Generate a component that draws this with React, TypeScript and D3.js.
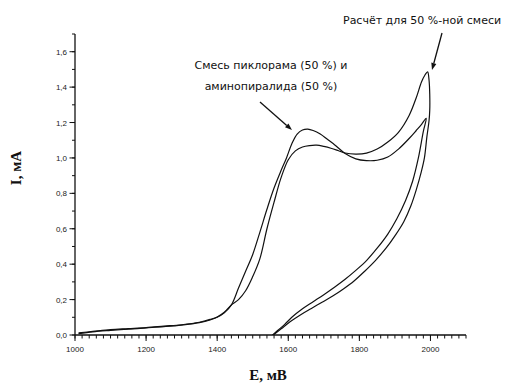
import React from "react";
import * as d3 from "d3";

// Measured mixture (picloram 50% + aminopyralid 50%) – forward scan
const mixFwdE = [1010, 1050, 1100, 1150, 1200, 1250, 1300, 1350, 1380, 1400, 1420, 1440, 1460, 1480, 1500, 1520, 1540, 1560, 1580, 1595, 1610, 1625, 1640, 1655, 1670, 1690, 1710, 1730, 1760, 1790, 1820, 1850, 1880, 1910, 1940, 1960, 1975, 1988];
const mixFwdI = [0.008, 0.018, 0.026, 0.033, 0.04, 0.047, 0.056, 0.07, 0.085, 0.1, 0.125, 0.17, 0.265, 0.36, 0.455, 0.58, 0.71, 0.83, 0.93, 1.0, 1.08, 1.135, 1.158, 1.163, 1.155, 1.135, 1.105, 1.075, 1.025, 0.995, 0.985, 0.987, 1.005, 1.05, 1.11, 1.155, 1.19, 1.224];
// Measured mixture – reverse scan
const mixRevE = [1980, 1966, 1950, 1930, 1905, 1880, 1850, 1820, 1790, 1760, 1730, 1700, 1670, 1640, 1610, 1590, 1570, 1556, 1545];
const mixRevI = [1.15, 1.0, 0.87, 0.76, 0.655, 0.57, 0.49, 0.42, 0.365, 0.315, 0.27, 0.228, 0.188, 0.148, 0.1, 0.06, 0.025, 0.0, -0.02];

// Calculated for 50% mixture – forward scan
const calcFwdE = [1010, 1050, 1100, 1150, 1200, 1250, 1300, 1350, 1380, 1400, 1420, 1440, 1460, 1480, 1500, 1520, 1540, 1560, 1580, 1600, 1620, 1640, 1660, 1680, 1700, 1720, 1740, 1760, 1790, 1820, 1850, 1880, 1910, 1940, 1960, 1975, 1985, 1992];
const calcFwdI = [0.012, 0.02, 0.03, 0.036, 0.042, 0.05, 0.058, 0.072, 0.088, 0.102, 0.128, 0.17, 0.2, 0.25, 0.33, 0.43, 0.6, 0.75, 0.89, 0.99, 1.04, 1.062, 1.07, 1.072, 1.065, 1.055, 1.042, 1.028, 1.022, 1.027, 1.05, 1.09, 1.145, 1.24, 1.34, 1.43, 1.47, 1.486];
// Calculated – reverse scan
const calcRevE = [1996, 1998, 1998, 1996, 1990, 1983, 1974, 1960, 1945, 1925, 1900, 1875, 1845, 1815, 1785, 1755, 1725, 1695, 1665, 1635, 1605, 1580, 1558, 1545];
const calcRevI = [1.44, 1.36, 1.27, 1.21, 1.12, 1.0, 0.92, 0.82, 0.73, 0.64, 0.56, 0.49, 0.42, 0.36, 0.305, 0.26, 0.22, 0.185, 0.15, 0.115, 0.075, 0.035, 0.0, -0.02];

const xTickValues = [1000, 1200, 1400, 1600, 1800, 2000];
const yTickValues = [0, 0.2, 0.4, 0.6, 0.8, 1.0, 1.2, 1.4, 1.6];

const xLabel = "E, мВ";
const yLabel = "I, мА";
const calcNote = "Расчёт для 50 %-ной смеси";
const mixNote1 = "Смесь пиклорама (50 %) и";
const mixNote2 = "аминопиралида (50 %)";

const W = 507;
const H = 383;

export default function App() {
  const x = d3.scaleLinear().domain([1000, 2100]).range([75, 466]);
  const y = d3.scaleLinear().domain([0, 1.7]).range([335, 34]);

  const line = d3
    .line<[number, number]>()
    .x((d) => x(d[0]))
    .y((d) => y(d[1]))
    .curve(d3.curveCatmullRom.alpha(0.5));

  const mixPts: [number, number][] = [
    ...mixFwdE.map((e, i) => [e, mixFwdI[i]] as [number, number]),
    ...mixRevE.map((e, i) => [e, mixRevI[i]] as [number, number]),
  ];
  const calcPts: [number, number][] = [
    ...calcFwdE.map((e, i) => [e, calcFwdI[i]] as [number, number]),
    ...calcRevE.map((e, i) => [e, calcRevI[i]] as [number, number]),
  ];

  const xMinor = d3.range(1000, 2100.1, 20);
  const yMinor = d3.range(0, 1.701, 0.1);
  const x0 = x(1000);
  const y0 = y(0);

  const fmtY = (v: number) => v.toFixed(1).replace(".", ",");

  const arrow = (x1: number, y1: number, x2: number, y2: number, key: string) => {
    const ang = Math.atan2(y2 - y1, x2 - x1);
    const len = 7;
    const w = 2.6;
    const bx = x2 - len * Math.cos(ang);
    const by = y2 - len * Math.sin(ang);
    const px = -Math.sin(ang) * w;
    const py = Math.cos(ang) * w;
    return (
      <g key={key}>
        <line x1={x1} y1={y1} x2={bx} y2={by} stroke="#111" strokeWidth={1.3} />
        <path d={`M${x2},${y2}L${bx + px},${by + py}L${bx - px},${by - py}Z`} fill="#111" />
      </g>
    );
  };

  return (
    <div style={{ position: "fixed", left: 0, top: 0, width: W, height: H, background: "#fff" }}>
      <svg width={W} height={H} style={{ display: "block" }}>
        <defs>
          <clipPath id="plot">
            <rect x={x0} y={20} width={x(2100) - x0} height={y0 - 20} />
          </clipPath>
        </defs>
        <rect width={W} height={H} fill="#fff" />
        <g clipPath="url(#plot)" fill="none" stroke="#111" strokeWidth={1.2}>
          <path d={line(mixPts) || ""} />
          <path d={line(calcPts) || ""} />
        </g>
        {/* axes */}
        <line x1={x0} y1={y(1.7)} x2={x0} y2={y0} stroke="#111" strokeWidth={1.3} />
        <line x1={x0} y1={y0} x2={x(2100)} y2={y0} stroke="#111" strokeWidth={1.3} />
        {xMinor.map((v) => (
          <line key={"xm" + v} x1={x(v)} x2={x(v)} y1={y0} y2={y0 + 3.5} stroke="#111" strokeWidth={1} />
        ))}
        {xTickValues.map((v) => (
          <g key={"xt" + v}>
            <line x1={x(v)} x2={x(v)} y1={y0} y2={y0 + 6} stroke="#111" strokeWidth={1} />
            <text x={x(v)} y={y0 + 17} fontSize={8} fontFamily="Liberation Sans, Arial, sans-serif" textAnchor="middle" fill="#222">
              {v}
            </text>
          </g>
        ))}
        {yMinor.map((v, i) => (
          <line key={"ym" + i} x1={x0 - 3} x2={x0} y1={y(v)} y2={y(v)} stroke="#111" strokeWidth={1} />
        ))}
        {yTickValues.map((v) => (
          <g key={"yt" + v}>
            <line x1={x0 - 5.5} x2={x0} y1={y(v)} y2={y(v)} stroke="#111" strokeWidth={1} />
            <text x={x0 - 8} y={y(v) + 3} fontSize={8} fontFamily="Liberation Sans, Arial, sans-serif" textAnchor="end" fill="#222">
              {fmtY(v)}
            </text>
          </g>
        ))}
        {/* axis titles */}
        <text x={268} y={380} fontSize={15} fontWeight="bold" fontFamily="Liberation Serif, Times New Roman, serif" textAnchor="middle" fill="#111">
          {xLabel}
        </text>
        <text transform="translate(21,168) rotate(-90)" fontSize={15} fontWeight="bold" fontFamily="Liberation Serif, Times New Roman, serif" textAnchor="middle" fill="#111">
          {yLabel}
        </text>
        {/* annotations */}
        <text x={343} y={24} fontSize={11} fontFamily="DejaVu Sans, Verdana, sans-serif" fill="#111">
          {calcNote}
        </text>
        <text x={271} y={69} fontSize={11} fontFamily="DejaVu Sans, Verdana, sans-serif" textAnchor="middle" fill="#111">
          {mixNote1}
        </text>
        <text x={271} y={90} fontSize={11} fontFamily="DejaVu Sans, Verdana, sans-serif" textAnchor="middle" fill="#111">
          {mixNote2}
        </text>
        {arrow(442, 33, 432, 70, "a1")}
        {arrow(260, 102, 292, 130, "a2")}
      </svg>
    </div>
  );
}
